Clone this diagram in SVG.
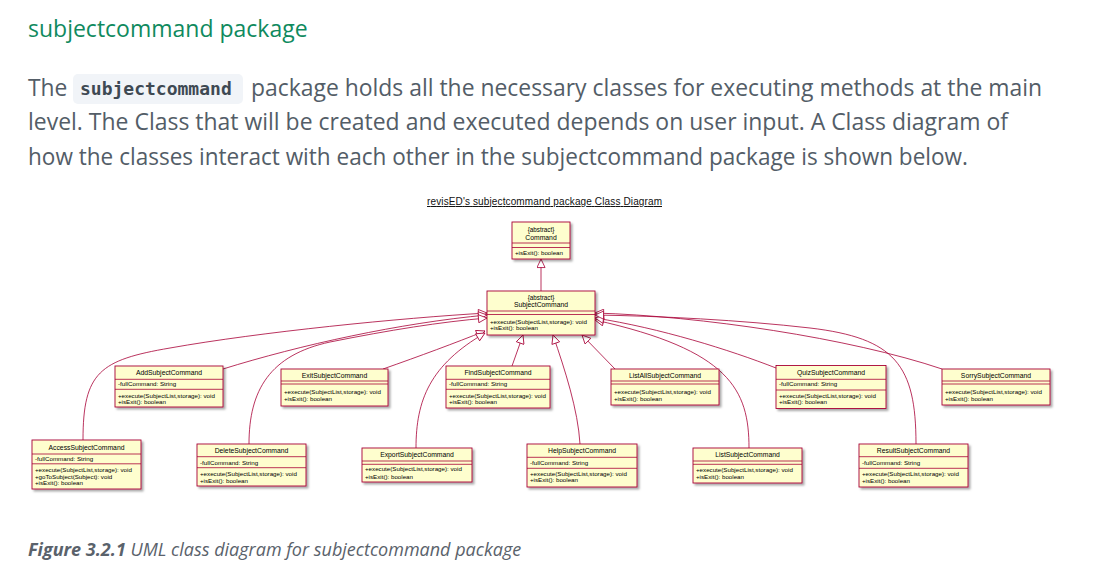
<svg xmlns="http://www.w3.org/2000/svg" width="1098" height="581" viewBox="0 0 1098 581">
<defs>
<style>
.h{font-family:"Open Sans","Noto Sans",sans-serif;font-size:23px;fill:#0f8a5e}
.p{font-family:"Open Sans","Noto Sans",sans-serif;font-size:22.8px;fill:#535d67}
.code{font-family:"DejaVu Sans Mono","Liberation Mono",monospace;font-weight:bold;font-size:18px;fill:#3e4953}
.cap{font-family:"Open Sans","Noto Sans",sans-serif;font-size:18px;fill:#5a626b;font-style:italic}
.t{font-family:"Liberation Sans",Arial,sans-serif;font-size:10px;fill:#111;text-decoration:underline}
.box{fill:#FEFECE;stroke:#A80036;stroke-width:0.9;filter:url(#sh)}
.sep{stroke:#A80036;stroke-width:0.8}
.n{font-family:"Liberation Sans",Arial,sans-serif;font-size:6.8px;fill:#000;text-anchor:middle}
.a{font-family:"Liberation Sans",Arial,sans-serif;font-size:6.3px;fill:#000;text-anchor:middle}
.m{font-family:"Liberation Sans",Arial,sans-serif;font-size:6.2px;fill:#000}
.c{fill:none;stroke:#A80036;stroke-width:0.8;marker-end:url(#tri)}
</style>
<filter id="sh" x="-10%" y="-10%" width="130%" height="140%"><feDropShadow dx="2" dy="2" stdDeviation="1" flood-color="#000" flood-opacity="0.35"/></filter>
<marker id="tri" viewBox="0 0 10 10" refX="10" refY="5" markerWidth="10" markerHeight="9" markerUnits="userSpaceOnUse" orient="auto"><path d="M0.5,0.5 L10,5 L0.5,9.5 z" fill="#fff" stroke="#A80036" stroke-width="0.9"/></marker>
</defs>
<rect width="1098" height="581" fill="#fff"/>
<g id="page-text">
<text class="h" x="28" y="37">subjectcommand package</text>
<text class="p" x="28" y="95.5">The</text>
<rect x="73" y="74" width="170" height="30" rx="5" fill="#f1f4f8"/>
<text class="code" x="80" y="95">subjectcommand</text>
<text class="p" x="251" y="95.5" textLength="791" lengthAdjust="spacingAndGlyphs">package holds all the necessary classes for executing methods at the main</text>
<text class="p" x="28" y="130" textLength="980" lengthAdjust="spacingAndGlyphs">level. The Class that will be created and executed depends on user input. A Class diagram of</text>
<text class="p" x="28" y="164.5" textLength="940" lengthAdjust="spacingAndGlyphs">how the classes interact with each other in the subjectcommand package is shown below.</text>
<text class="cap" x="28" y="556"><tspan font-weight="bold">Figure 3.2.1</tspan> UML class diagram for subjectcommand package</text>
<text class="t" x="427" y="205" textLength="235">revisED's subjectcommand package Class Diagram</text>
</g>
<g id="connectors">
<path class="c" d="M541,291 L541,259"/>
<path class="c" d="M83,440 C83,372 100,360 170,348 C260,332 400,318 487,313"/>
<path class="c" d="M223,369 C300,345 400,323 487,315"/>
<path class="c" d="M249,444 C249,390 270,355 330,342 C390,330 440,322 487,318"/>
<path class="c" d="M383,369 C420,356 455,343 485,331"/>
<path class="c" d="M416,448 C416,400 430,365 485,333"/>
<path class="c" d="M512,366 L523,335"/>
<path class="c" d="M580,444 C578,410 565,370 553,335"/>
<path class="c" d="M615,369 L582,335"/>
<path class="c" d="M749,448 C749,390 730,350 595,320"/>
<path class="c" d="M776,368 C730,350 660,328 595,318"/>
<path class="c" d="M942,369 C850,338 700,316 595,313"/>
<path class="c" d="M916,444 C916,365 895,338 810,328 C740,320 660,316 595,315"/>
</g>
<g id="Command">
<rect class="box" x="512" y="222" width="58" height="37"/>
<text class="a" x="541" y="232">{abstract}</text>
<text class="n" x="541" y="239.5">Command</text>
<line class="sep" x1="512" y1="243" x2="570" y2="243"/>
<line class="sep" x1="512" y1="247.5" x2="570" y2="247.5"/>
<text class="m" x="515" y="255.3">+isExit(): boolean</text>
</g>
<g id="SubjectCommand">
<rect class="box" x="487" y="291" width="108" height="44"/>
<text class="a" x="541" y="299.5">{abstract}</text>
<text class="n" x="541" y="307.3">SubjectCommand</text>
<line class="sep" x1="487" y1="311" x2="595" y2="311"/>
<line class="sep" x1="487" y1="314.5" x2="595" y2="314.5"/>
<text class="m" x="490" y="323.8">+execute(SubjectList,storage): void</text>
<text class="m" x="490" y="329.8">+isExit(): boolean</text>
</g>
<g id="AddSubjectCommand">
<rect class="box" x="115" y="366" width="108" height="41"/>
<text class="n" x="169" y="375">AddSubjectCommand</text>
<line class="sep" x1="115" y1="379.3" x2="223" y2="379.3"/>
<text class="m" x="118" y="386.4">-fullCommand: String</text>
<line class="sep" x1="115" y1="389.3" x2="223" y2="389.3"/>
<text class="m" x="118" y="397.8">+execute(SubjectList,storage): void</text>
<text class="m" x="118" y="403.8">+isExit(): boolean</text>
</g>
<g id="ExitSubjectCommand">
<rect class="box" x="281" y="369" width="107" height="37"/>
<text class="n" x="334.5" y="378.3">ExitSubjectCommand</text>
<line class="sep" x1="281" y1="381" x2="388" y2="381"/>
<line class="sep" x1="281" y1="384" x2="388" y2="384"/>
<text class="m" x="284" y="394.4">+execute(SubjectList,storage): void</text>
<text class="m" x="284" y="401.4">+isExit(): boolean</text>
</g>
<g id="FindSubjectCommand">
<rect class="box" x="446" y="366" width="104" height="42"/>
<text class="n" x="498" y="375">FindSubjectCommand</text>
<line class="sep" x1="446" y1="379.3" x2="550" y2="379.3"/>
<text class="m" x="449" y="386.4">-fullCommand: String</text>
<line class="sep" x1="446" y1="389.3" x2="550" y2="389.3"/>
<text class="m" x="449" y="398">+execute(SubjectList,storage): void</text>
<text class="m" x="449" y="404.4">+isExit(): boolean</text>
</g>
<g id="ListAllSubjectCommand">
<rect class="box" x="611" y="369" width="108" height="36"/>
<text class="n" x="665" y="378.3">ListAllSubjectCommand</text>
<line class="sep" x1="611" y1="381" x2="719" y2="381"/>
<line class="sep" x1="611" y1="384" x2="719" y2="384"/>
<text class="m" x="614" y="394.4">+execute(SubjectList,storage): void</text>
<text class="m" x="614" y="401.4">+isExit(): boolean</text>
</g>
<g id="QuizSubjectCommand">
<rect class="box" x="776" y="365.5" width="110" height="43"/>
<text class="n" x="831" y="375">QuizSubjectCommand</text>
<line class="sep" x1="776" y1="379.3" x2="886" y2="379.3"/>
<text class="m" x="779" y="386.4">-fullCommand: String</text>
<line class="sep" x1="776" y1="390" x2="886" y2="390"/>
<text class="m" x="779" y="397.8">+execute(SubjectList,storage): void</text>
<text class="m" x="779" y="404.4">+isExit(): boolean</text>
</g>
<g id="SorrySubjectCommand">
<rect class="box" x="942" y="369" width="108" height="36"/>
<text class="n" x="996" y="378.3">SorrySubjectCommand</text>
<line class="sep" x1="942" y1="381" x2="1050" y2="381"/>
<line class="sep" x1="942" y1="384" x2="1050" y2="384"/>
<text class="m" x="945" y="394.4">+execute(SubjectList,storage): void</text>
<text class="m" x="945" y="401.4">+isExit(): boolean</text>
</g>
<g id="AccessSubjectCommand">
<rect class="box" x="32" y="440" width="109" height="49"/>
<text class="n" x="86.5" y="449.6">AccessSubjectCommand</text>
<line class="sep" x1="32" y1="454" x2="141" y2="454"/>
<text class="m" x="35" y="461.1">-fullCommand: String</text>
<line class="sep" x1="32" y1="463.8" x2="141" y2="463.8"/>
<text class="m" x="35" y="472.1">+execute(SubjectList,storage): void</text>
<text class="m" x="35" y="478.8">+goToSubject(Subject): void</text>
<text class="m" x="35" y="485.4">+isExit(): boolean</text>
</g>
<g id="DeleteSubjectCommand">
<rect class="box" x="197" y="444" width="109" height="42"/>
<text class="n" x="251.5" y="453">DeleteSubjectCommand</text>
<line class="sep" x1="197" y1="456.7" x2="306" y2="456.7"/>
<text class="m" x="200" y="464.8">-fullCommand: String</text>
<line class="sep" x1="197" y1="467.7" x2="306" y2="467.7"/>
<text class="m" x="200" y="476.1">+execute(SubjectList,storage): void</text>
<text class="m" x="200" y="482.8">+isExit(): boolean</text>
</g>
<g id="ExportSubjectCommand">
<rect class="box" x="362" y="448" width="110" height="34"/>
<text class="n" x="417" y="456.6">ExportSubjectCommand</text>
<line class="sep" x1="362" y1="461" x2="472" y2="461"/>
<line class="sep" x1="362" y1="464.3" x2="472" y2="464.3"/>
<text class="m" x="365" y="471.4">+execute(SubjectList,storage): void</text>
<text class="m" x="365" y="478.6">+isExit(): boolean</text>
</g>
<g id="HelpSubjectCommand">
<rect class="box" x="527" y="444" width="110" height="43"/>
<text class="n" x="582" y="453">HelpSubjectCommand</text>
<line class="sep" x1="527" y1="457.3" x2="637" y2="457.3"/>
<text class="m" x="530" y="464.8">-fullCommand: String</text>
<line class="sep" x1="527" y1="468.3" x2="637" y2="468.3"/>
<text class="m" x="530" y="476.1">+execute(SubjectList,storage): void</text>
<text class="m" x="530" y="482.4">+isExit(): boolean</text>
</g>
<g id="ListSubjectCommand">
<rect class="box" x="693" y="448" width="109" height="35"/>
<text class="n" x="747.5" y="456.6">ListSubjectCommand</text>
<line class="sep" x1="693" y1="461" x2="802" y2="461"/>
<line class="sep" x1="693" y1="464.3" x2="802" y2="464.3"/>
<text class="m" x="696" y="471.6">+execute(SubjectList,storage): void</text>
<text class="m" x="696" y="478.8">+isExit(): boolean</text>
</g>
<g id="ResultSubjectCommand">
<rect class="box" x="859" y="444" width="109" height="43"/>
<text class="n" x="913.5" y="453">ResultSubjectCommand</text>
<line class="sep" x1="859" y1="456.7" x2="968" y2="456.7"/>
<text class="m" x="862" y="464.8">-fullCommand: String</text>
<line class="sep" x1="859" y1="468.3" x2="968" y2="468.3"/>
<text class="m" x="862" y="476.1">+execute(SubjectList,storage): void</text>
<text class="m" x="862" y="482.8">+isExit(): boolean</text>
</g>
</svg>
